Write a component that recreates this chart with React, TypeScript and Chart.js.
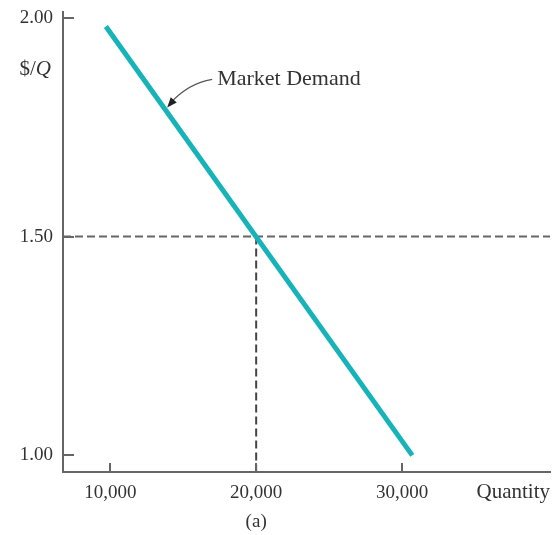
import React, { useEffect, useRef } from 'react';
import { Chart, registerables } from 'chart.js';

Chart.register(...registerables);

// ---- data ----
const demandQuantities = [9700, 30700];
const demandPrices = [1.98, 1.0];
const equilibriumQuantity = 20000;
const equilibriumPrice = 1.5;
const xTickValues = [10000, 20000, 30000];
const yTickValues = [1.0, 1.5, 2.0];
const xRange = [6760, 40140];
const yRange = [0.962, 2.013];
const annotationPoint = [13900, 1.795];
const annotationText = 'Market Demand';
const xAxisTitle = 'Quantity';
const yAxisTitlePlain = '$/';
const yAxisTitleItalic = 'Q';
const panelLabel = '(a)';

const FONT = '"Liberation Serif", "DejaVu Serif", serif';
const TEXT = '#333333';
const AXIS = '#666666';
const TEAL = '#17b3b9';

const decorPlugin = {
  id: 'decor',
  afterDraw(chart: any) {
    const ctx = chart.ctx;
    const { left, top, bottom } = chart.chartArea;
    const xs = chart.scales.x;
    const ys = chart.scales.y;
    ctx.save();
    // inward tick marks
    ctx.strokeStyle = AXIS;
    ctx.lineWidth = 2;
    ctx.beginPath();
    yTickValues.forEach((v) => {
      const py = Math.round(ys.getPixelForValue(v));
      ctx.moveTo(left, py);
      ctx.lineTo(left + 11, py);
    });
    xTickValues.forEach((v) => {
      const px = Math.round(xs.getPixelForValue(v));
      ctx.moveTo(px, bottom);
      ctx.lineTo(px, bottom - 9);
    });
    ctx.stroke();

    // y axis title $/Q
    ctx.fillStyle = TEXT;
    ctx.textBaseline = 'middle';
    ctx.textAlign = 'left';
    ctx.font = `21px ${FONT}`;
    const yTitleY = top + 57;
    const wPlain = ctx.measureText(yAxisTitlePlain).width;
    ctx.font = `italic 21px ${FONT}`;
    const wItal = ctx.measureText(yAxisTitleItalic).width;
    const startX = left - 12 - wPlain - wItal;
    ctx.font = `21px ${FONT}`;
    ctx.fillText(yAxisTitlePlain, startX, yTitleY);
    ctx.font = `italic 21px ${FONT}`;
    ctx.fillText(yAxisTitleItalic, startX + wPlain, yTitleY);

    // x axis title
    ctx.font = `21px ${FONT}`;
    ctx.textAlign = 'right';
    ctx.fillText(xAxisTitle, chart.width - 2, bottom + 20);

    // panel label
    ctx.font = `19px ${FONT}`;
    ctx.textAlign = 'center';
    ctx.fillText(panelLabel, xs.getPixelForValue(xTickValues[1]), bottom + 50);

    // annotation with curved arrow
    const tx = xs.getPixelForValue(annotationPoint[0]);
    const ty = ys.getPixelForValue(annotationPoint[1]);
    const p0x = tx + 45, p0y = ty - 28;
    const cx = tx + 21, cy = ty - 24;
    ctx.strokeStyle = '#555555';
    ctx.lineWidth = 1.2;
    ctx.beginPath();
    ctx.moveTo(p0x, p0y);
    ctx.quadraticCurveTo(cx, cy, tx + 3, ty - 4);
    ctx.stroke();
    const ang = Math.atan2(ty - cy, tx - cx);
    const len = 10, half = 4;
    ctx.fillStyle = '#222222';
    ctx.beginPath();
    ctx.moveTo(tx, ty);
    ctx.lineTo(tx - len * Math.cos(ang) + half * Math.sin(ang), ty - len * Math.sin(ang) - half * Math.cos(ang));
    ctx.lineTo(tx - len * Math.cos(ang) - half * Math.sin(ang), ty - len * Math.sin(ang) + half * Math.cos(ang));
    ctx.closePath();
    ctx.fill();
    ctx.fillStyle = TEXT;
    ctx.textAlign = 'left';
    ctx.textBaseline = 'middle';
    ctx.font = `22px ${FONT}`;
    ctx.fillText(annotationText, p0x + 5, p0y);
    ctx.restore();
  },
};

export default function App() {
  const canvasRef = useRef<HTMLCanvasElement | null>(null);

  useEffect(() => {
    if (!canvasRef.current) return;
    const demand = demandQuantities.map((q, i) => ({ x: q, y: demandPrices[i] }));
    const hLine = [
      { x: xRange[0], y: equilibriumPrice },
      { x: xRange[1], y: equilibriumPrice },
    ];
    const vLine = [
      { x: equilibriumQuantity, y: equilibriumPrice },
      { x: equilibriumQuantity, y: yRange[0] },
    ];
    const chart = new Chart(canvasRef.current, {
      type: 'line',
      data: {
        datasets: [
          {
            data: demand,
            borderColor: TEAL,
            borderWidth: 5,
            borderCapStyle: 'butt',
            pointRadius: 0,
            order: 0,
          },
          {
            data: hLine,
            borderColor: AXIS,
            borderWidth: 2,
            borderDash: [8, 4],
            pointRadius: 0,
            order: 1,
          },
          {
            data: vLine,
            borderColor: '#444444',
            borderWidth: 2,
            borderDash: [8, 4],
            pointRadius: 0,
            order: 1,
          },
        ],
      } as any,
      options: {
        animation: false,
        responsive: true,
        maintainAspectRatio: false,
        layout: { padding: { top: 12, right: 2, left: 0, bottom: 0 } },
        plugins: { legend: { display: false }, tooltip: { enabled: false } },
        scales: {
          x: {
            type: 'linear',
            min: xRange[0],
            max: xRange[1],
            afterBuildTicks: (s: any) => {
              s.ticks = xTickValues.map((v) => ({ value: v }));
            },
            afterFit: (s: any) => {
              s.height = 63;
              s.paddingLeft = 0;
              s.paddingRight = 0;
            },
            grid: { display: false, drawTicks: false },
            border: { display: true, color: AXIS, width: 2 },
            ticks: {
              color: TEXT,
              font: { family: FONT, size: 19 },
              padding: 10,
              maxRotation: 0,
              callback: (v: any) => Number(v).toLocaleString('en-US'),
            },
          },
          y: {
            type: 'linear',
            min: yRange[0],
            max: yRange[1],
            afterBuildTicks: (s: any) => {
              s.ticks = yTickValues.map((v) => ({ value: v }));
            },
            afterFit: (s: any) => {
              s.width = 63;
              s.paddingTop = 0;
              s.paddingBottom = 0;
            },
            grid: { display: false, drawTicks: false },
            border: { display: true, color: AXIS, width: 2 },
            ticks: {
              color: TEXT,
              font: { family: FONT, size: 19 },
              padding: 10,
              callback: (v: any) => Number(v).toFixed(2),
            },
          },
        },
      } as any,
      plugins: [decorPlugin],
    });
    return () => chart.destroy();
  }, []);

  return (
    <div style={{ position: 'absolute', left: 0, top: 0, width: 552, height: 535, background: '#fff' }}>
      <canvas ref={canvasRef} />
    </div>
  );
}
